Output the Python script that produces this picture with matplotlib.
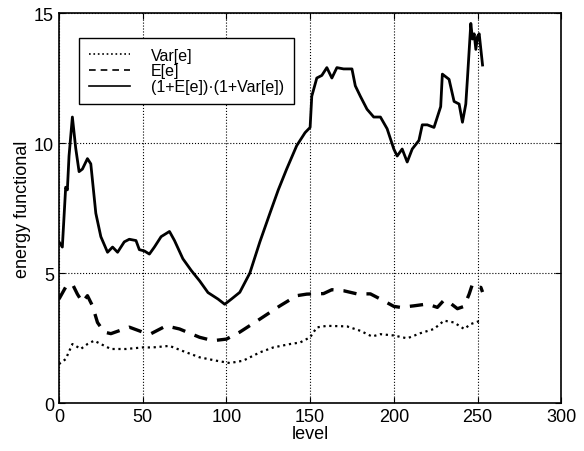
import matplotlib
matplotlib.use("Agg")
import matplotlib.pyplot as plt

plt.rcParams['font.family'] = ['Liberation Sans', 'DejaVu Sans']

# product curve (1+E)(1+Var)
lev_prod = [0, 2, 4, 5, 6, 8, 10, 12, 14, 17, 19, 22, 25, 29, 32, 35, 39, 42, 46, 48,
            51, 54, 57, 61, 66, 69, 74, 79, 84, 89, 95, 99, 103, 108, 114, 120, 126,
            131, 136, 142, 147, 150, 151, 154, 157, 160, 163, 166, 170, 175, 177, 180,
            184, 188, 192, 196, 200, 202, 205, 208, 211, 215, 217, 220, 224, 228, 229,
            233, 236, 239, 241, 243, 244, 246, 247, 248, 249, 250, 251, 253]
prod = [6.2, 6.0, 8.3, 8.2, 9.5, 11.0, 9.8, 8.9, 9.0, 9.4, 9.2, 7.3, 6.4, 5.8, 6.0,
        5.8, 6.2, 6.3, 6.25, 5.9, 5.85, 5.73, 6.0, 6.4, 6.6, 6.25, 5.55, 5.1, 4.7,
        4.25, 4.0, 3.8, 4.0, 4.26, 5.0, 6.2, 7.3, 8.2, 9.0, 9.9, 10.4, 10.6, 11.8,
        12.5, 12.6, 12.9, 12.5, 12.9, 12.85, 12.85, 12.2, 11.8, 11.3, 11.0, 11.0,
        10.55, 9.77, 9.5, 9.77, 9.27, 9.77, 10.1, 10.7, 10.7, 10.6, 11.4, 12.65,
        12.45, 11.6, 11.5, 10.8, 11.5, 12.5, 14.6, 14.0, 14.2, 13.6, 14.1, 14.2, 13.0]

# mean E[e]
lev_mean = [0, 4, 8, 11, 14, 17, 20, 23, 27, 31, 42, 50, 55, 64, 72, 84, 92, 100,
            108, 120, 132, 142, 148, 158, 163, 170, 178, 186, 192, 200, 204, 212,
            220, 226, 230, 234, 238, 242, 245, 247, 250, 252, 253]
mean = [4.0, 4.46, 4.58, 4.19, 3.88, 4.13, 3.74, 3.1, 2.73, 2.67, 2.92, 2.73, 2.67,
        2.97, 2.85, 2.53, 2.4, 2.46, 2.73, 3.23, 3.74, 4.13, 4.19, 4.21, 4.36, 4.32,
        4.2, 4.2, 4.0, 3.72, 3.68, 3.74, 3.81, 3.68, 3.96, 3.83, 3.63, 3.72, 4.19,
        4.58, 4.45, 4.45, 4.27]

# variance Var[e]
lev_var = [0, 4, 8, 10, 13, 17, 21, 25, 31, 40, 50, 56, 66, 74, 84, 94, 102, 110,
           120, 128, 138, 144, 150, 154, 160, 172, 180, 187, 192, 200, 208, 216, 224,
           230, 236, 242, 246, 250, 253]
var = [1.5, 1.69, 2.27, 2.2, 2.08, 2.27, 2.4, 2.27, 2.08, 2.08, 2.14, 2.14, 2.2, 2.0,
       1.76, 1.63, 1.54, 1.63, 1.95, 2.14, 2.27, 2.33, 2.53, 2.91, 2.97, 2.95, 2.78,
       2.56, 2.65, 2.6, 2.49, 2.69, 2.85, 3.17, 3.1, 2.85, 3.04, 3.13, 3.17]

fig = plt.figure(figsize=(5.84, 4.52), dpi=100)
ax = fig.add_axes([0.101, 0.106, 0.86, 0.863])

ax.plot(lev_var, var, color='black', linestyle=':', linewidth=1.6, label='Var[e]')
ax.plot(lev_mean, mean, color='black', linestyle='--', linewidth=2.4,
        dashes=(4, 3), label='E[e]')
ax.plot(lev_prod, prod, color='black', linestyle='-', linewidth=2.0,
        label='(1+E[e])·(1+Var[e])')

ax.set_xlim(0, 300)
ax.set_ylim(0, 15)
ax.set_xticks([0, 50, 100, 150, 200, 250, 300])
ax.set_yticks([0, 5, 10, 15])
ax.grid(True, color='black', linestyle=':', linewidth=0.8)
ax.tick_params(direction='in', labelsize=13, top=True, right=True, length=4)
for s in ax.spines.values():
    s.set_linewidth(1.2)

ax.set_xlabel('level', fontsize=13, labelpad=0)
ax.set_ylabel('energy functional', fontsize=13, labelpad=2)

leg = ax.legend(loc='upper left', bbox_to_anchor=(0.04, 0.936), fontsize=11.5,
                frameon=True, fancybox=False, edgecolor='black', framealpha=1,
                handlelength=2.6, handletextpad=1.3, borderpad=0.6,
                labelspacing=0.05, borderaxespad=0)
leg.get_frame().set_linewidth(1.0)
for line in leg.get_lines():
    line.set_linewidth(1.2)

fig.savefig('out.png', dpi=100)
